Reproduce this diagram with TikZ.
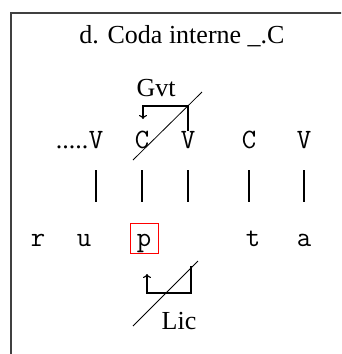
\documentclass[tikz,border=0pt]{standalone}
\usepackage{fontspec}
\setmainfont{Liberation Serif}
\usetikzlibrary{arrows.meta}
\tikzset{
	seg/.style={font=\ttfamily\fontsize{28}{30}\selectfont, inner sep=0pt, anchor=base}, % skeleton and melody letters
	lbl/.style={font=\fontsize{26}{28}\selectfont, inner sep=0pt}, % Gvt, Lic and title
	bar/.style={line width=1.1pt}, % association lines
	slash/.style={line width=0.8pt}, % crossed-out relation
	rel/.style={line width=1.1pt, -{To[length=4pt,width=8pt]}}, % government / licensing
}

\begin{document}
\begin{tikzpicture}[x=1pt, y=-1pt]
	\clip (0,0) rectangle (341,354);
	\fill[white] (0,0) rectangle (341,354);
	\draw[line width=1.5pt, black!75] (11,13) rectangle (380,380);
	
	\node[lbl] (title) at (182,36) {d. Coda interne \_.C};
	
	% skeleton
	\node[seg] (v1) at (96,148) {V};
	\node[lbl, anchor=base east] (dots) at (v1.base west) {.....};
	\node[seg] (c1) at (142,148) {C};
	\node[seg] (v2) at (188,148) {V};
	\node[seg] (c2) at (249,148) {C};
	\node[seg] (v3) at (304,148) {V};
	\foreach \n in {v1,c1,v2,c2,v3}
		\draw[bar] (\n.base) ++(0,22) -- ++(0,32);
	
	% melody
	\node[seg] (r) at (38,246) {r};
	\node[seg] (u) at (84,246) {u};
	\node[seg] (p) at (144,246) {p};
	\draw[red, line width=0.8pt] (130,223) rectangle (158,253);
	\node[seg] (t) at (253,246) {t};
	\node[seg] (a) at (304,246) {a};
	
	% government
	\node[lbl] (gvt) at (156,88) {Gvt};
	\coordinate (gturn) at (143,106);
	\coordinate (gend) at (143,119);
	\draw[rel] (v2.north) -- (v2.north |- gturn) -- (gturn) -- (gend);
	\coordinate (gs1) at (202,92);
	\coordinate (gs2) at (133,160);
	\draw[slash] (gs1) -- (gs2);
	
	% licensing
	\node[lbl] (lic) at (179,321) {Lic};
	\coordinate (lstart) at (191,266);
	\coordinate (lturn) at (191,293);
	\coordinate (lturn2) at (147,293);
	\coordinate (lend) at (147,274);
	\draw[rel] (lstart) -- (lturn) -- (lturn2) -- (lend);
	\coordinate (ls1) at (198,261);
	\coordinate (ls2) at (133,326);
	\draw[slash] (ls1) -- (ls2);
\end{tikzpicture}
\end{document}
